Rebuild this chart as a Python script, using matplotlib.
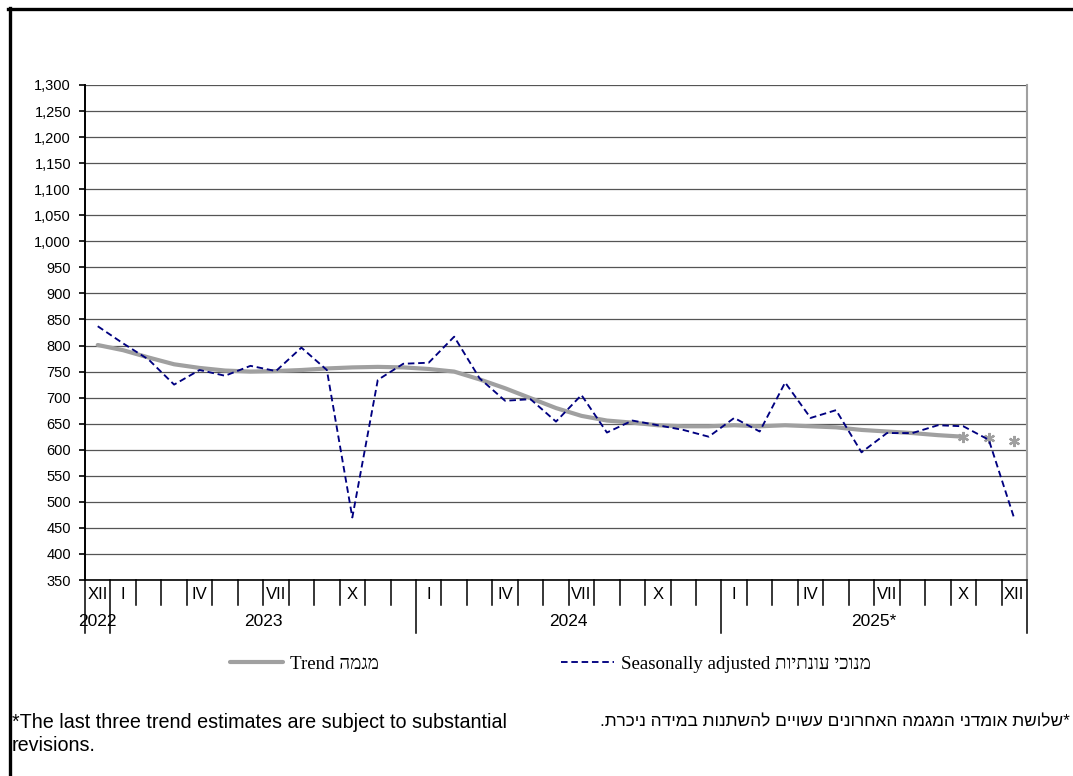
import matplotlib.pyplot as plt
from matplotlib.lines import Line2D
from matplotlib.ticker import FuncFormatter
import matplotlib.transforms as mtransforms

# monthly values, XII 2022 .. XII 2025
months = ['XII', 'I', '', '', 'IV', '', '', 'VII', '', '', 'X', '', '',
          'I', '', '', 'IV', '', '', 'VII', '', '', 'X', '', '',
          'I', '', '', 'IV', '', '', 'VII', '', '', 'X', '', 'XII']
seasonally_adjusted = [837, 804, 773, 725, 753, 742, 761, 751, 796, 753, 470, 734, 765,
                       767, 817, 737, 694, 697, 654, 705, 633, 656, 647, 638, 625,
                       661, 635, 729, 661, 676, 595, 632, 632, 647, 645, 619, 468]
trend = [801, 791, 777, 764, 757, 752, 750, 751, 753, 756, 758, 759, 758,
         755, 750, 735, 718, 699, 680, 665, 656, 652, 647, 645, 645,
         647, 645, 647, 645, 643, 638, 635, 632, 628, 625, 622, 616]
years = ['2022', '2023', '2024', '2025*']
year_centers = [0, 6.5, 18.5, 30.5]
year_bounds = [-0.5, 0.5, 12.5, 24.5, 36.5]
n_provisional = 3


def rtl(s: str) -> str:
  # matplotlib has no bidi support, so hebrew is given in visual order
  return s[::-1]


W, H = 1073, 776
fig = plt.figure(figsize=(W / 100, H / 100), dpi=100)
ax = fig.add_axes([85 / W, 1 - 580 / H, (1027 - 85) / W, (580 - 85) / H])

x = list(range(len(trend)))
n_line = len(trend) - n_provisional + 1

trend_line, = ax.plot(x[:n_line], trend[:n_line], color='#a0a0a0', lw=3,
                      solid_capstyle='round', label='Trend ' + rtl('מגמה'), zorder=3)
ax.plot(x[-n_provisional:], trend[-n_provisional:], ls='none', marker=(6, 2, 0),
        ms=8, mew=1.6, mec='#a0a0a0', zorder=3)
sa_line, = ax.plot(x, seasonally_adjusted, color='#000080', lw=1.35, ls=(0, (3.5, 2)),
                   label='Seasonally adjusted ' + rtl('מנוכי עונתיות'), zorder=4)

ax.set_xlim(-0.5, len(x) - 0.5)
ax.set_ylim(350, 1300)
ax.set_yticks(range(350, 1301, 50))
ax.yaxis.set_major_formatter(FuncFormatter(lambda v, p: f'{int(v):,}'))
ax.grid(axis='y', color='#555555', lw=0.9)
ax.set_axisbelow(True)

ax.spines['top'].set_visible(False)
ax.spines['right'].set_color('#a0a0a0')
ax.spines['right'].set_linewidth(1.5)
ax.spines['left'].set_linewidth(1.4)
ax.spines['bottom'].set_linewidth(1.2)

ax.tick_params(axis='y', direction='out', length=4, width=1.2, pad=6,
               labelsize=10.5, labelfontfamily='Liberation Sans')
ax.set_xticks(x)
ax.set_xticklabels(months, fontsize=12, family='Liberation Sans')
ax.tick_params(axis='x', length=0, pad=5)

# category separators below the axis, longer ones at year boundaries
trans = mtransforms.blended_transform_factory(ax.transData, ax.transAxes)
short_len = 25 / 495
long_len = 53 / 495
for i in range(len(x) + 1):
  xb = i - 0.5
  depth = long_len if xb in year_bounds else short_len
  ax.plot([xb, xb], [0, -depth], color='black', lw=1.1, transform=trans, clip_on=False)

for yr, xc in zip(years, year_centers):
  ax.text(xc, -41 / 495, yr, transform=trans, ha='center', va='center',
          fontsize=12.5, family='Liberation Sans')

fig.legend(handles=[trend_line, sa_line], loc='center left',
           bbox_to_anchor=(230 / W, 1 - 664 / H), ncol=2, frameon=False,
           borderpad=0, borderaxespad=0, handlelength=2.8, handletextpad=0.4,
           columnspacing=9.6, prop={'family': ['Liberation Serif', 'DejaVu Sans'], 'size': 13.6})

fig.text(12 / W, 1 - 734 / H, '*The last three trend estimates are subject to substantial\nrevisions.',
         ha='left', va='center', fontsize=14.2, family='Liberation Sans', linespacing=1.22)
fig.text(1070 / W, 1 - 722 / H, rtl('*שלושת אומדני המגמה האחרונים עשויים להשתנות במידה ניכרת.'),
         ha='right', va='center', fontsize=12.4, family=['Liberation Sans', 'DejaVu Sans'])

# outer frame (top and left edges)
fig.add_artist(Line2D([8 / W, 1], [1 - 8.5 / H, 1 - 8.5 / H], color='black', lw=2.4,
                      transform=fig.transFigure))
fig.add_artist(Line2D([9.5 / W, 9.5 / W], [0, 1 - 7.5 / H], color='black', lw=2.4,
                      transform=fig.transFigure))

fig.savefig('out.png', dpi=100)
